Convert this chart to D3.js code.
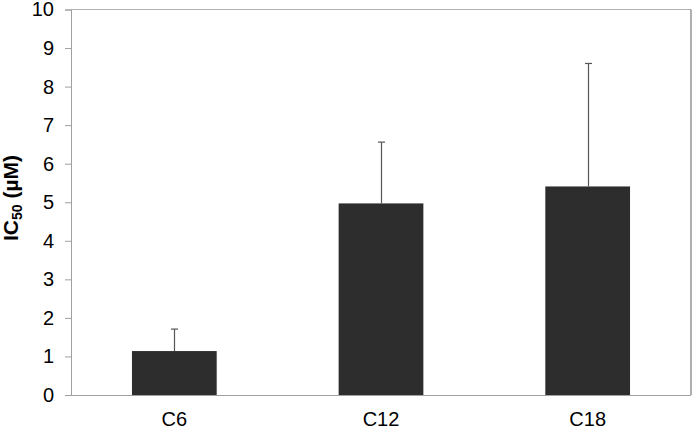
<!DOCTYPE html>
<html><head><meta charset="utf-8">
<script src="https://cdn.jsdelivr.net/npm/d3@7"></script>
<style>body{margin:0;background:#fff}svg{display:block}text{font-family:"Liberation Sans",Arial,sans-serif}</style>
</head><body>
<svg id="c" width="692" height="431"></svg>
<script>
const categories = ["C6", "C12", "C18"];
const values = [1.14, 4.97, 5.41];
const errors = [0.57, 1.59, 3.19];
const yTicks = [0,1,2,3,4,5,6,7,8,9,10];

const svg = d3.select("#c");
const L = 71, R = 691, T = 9.5, B = 395;
const x = d3.scaleBand().domain(categories).range([L, R]).paddingInner(0.59).paddingOuter(0.295);
const y = d3.scaleLinear().domain([0, 10]).range([B, T]);

// plot border (top & right)
svg.append("line").attr("x1", L).attr("x2", R).attr("y1", T).attr("y2", T).attr("stroke", "#b0b0b0");
svg.append("line").attr("x1", R).attr("x2", R).attr("y1", T).attr("y2", B).attr("stroke", "#606060");

// bars
svg.selectAll("rect.bar").data(categories).join("rect")
  .attr("x", d => x(d)).attr("width", x.bandwidth())
  .attr("y", (d,i) => y(values[i])).attr("height", (d,i) => B - y(values[i]))
  .attr("fill", "#2d2d2d");

// error bars
const eb = svg.append("g").attr("stroke", "#555").attr("stroke-width", 1.2);
categories.forEach((d,i) => {
  const cx = Math.round(x(d) + x.bandwidth()/2) + 0.5;
  eb.append("line").attr("x1", cx).attr("x2", cx).attr("y1", y(values[i])).attr("y2", y(values[i]+errors[i]));
  eb.append("line").attr("x1", cx-3.5).attr("x2", cx+3.5).attr("y1", y(values[i]+errors[i])).attr("y2", y(values[i]+errors[i]));
});

// y axis
const ya = svg.append("g").attr("transform", `translate(${L},0)`)
  .call(d3.axisLeft(y).tickValues(yTicks).tickSize(6).tickPadding(11).tickFormat(d3.format("d")));
ya.select(".domain").attr("stroke", "#a0a0a0");
ya.selectAll(".tick line").attr("stroke", "#a0a0a0");
ya.selectAll("text").attr("font-size", 20).attr("fill", "#000").style("font-family", "Liberation Sans, Arial, sans-serif");

// x axis
const xa = svg.append("g").attr("transform", `translate(0,${B})`)
  .call(d3.axisBottom(x).tickSize(0).tickPadding(20));
xa.select(".domain").attr("stroke", "#a0a0a0").attr("d", `M${L-6},0.5H${R}`);
xa.selectAll("text").attr("font-size", 20).attr("fill", "#000").attr("dy", null).attr("y", 31)
  .style("font-family", "Liberation Sans, Arial, sans-serif");

// y label
const yl = svg.append("text").attr("transform", "translate(18,198) rotate(-90)")
  .attr("text-anchor", "middle").attr("font-size", 21).attr("font-weight", "bold");
yl.append("tspan").text("IC");
yl.append("tspan").attr("font-size", 14).attr("dy", 4).text("50");
yl.append("tspan").attr("dy", -4).text(" (µM)");
</script>
</body></html>
